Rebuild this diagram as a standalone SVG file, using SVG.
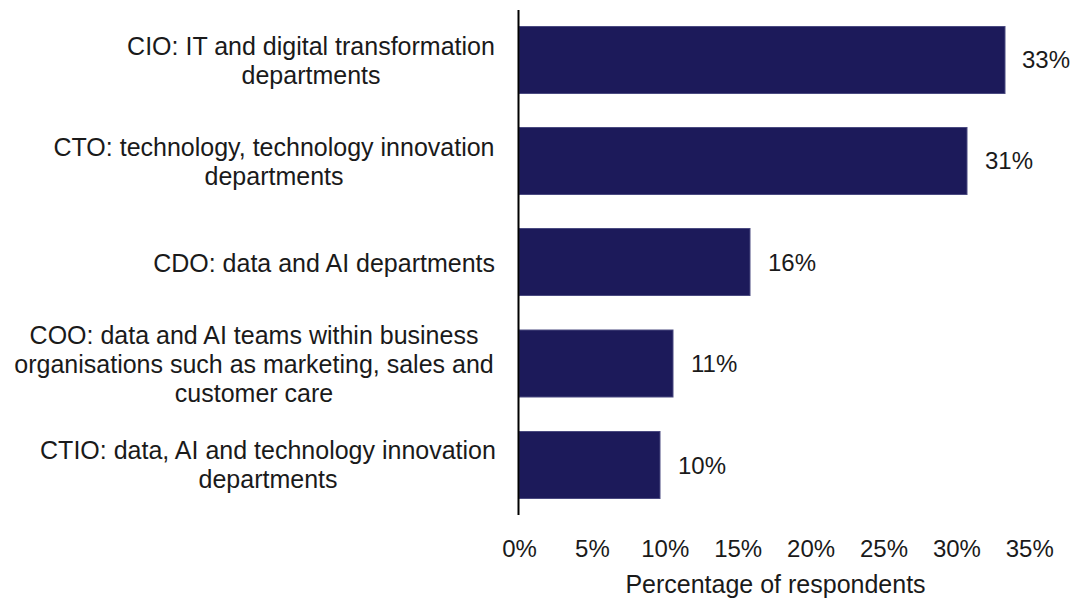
<svg xmlns="http://www.w3.org/2000/svg" width="1077" height="603" viewBox="0 0 1077 603">
<style>
text{font-family:"Liberation Sans",Arial,sans-serif;fill:#1a1a1a}
.lab{font-size:25px;text-anchor:middle}
.val{font-size:24px}
.tick{font-size:24px;text-anchor:middle}
.bar{fill:#1c1a5a;stroke:#4a4a80;stroke-width:1}
</style>
<rect width="1077" height="603" fill="#ffffff"/>
<g id="bar-cio">
<rect class="bar" x="519" y="26.5" width="486" height="67"/>
<text class="lab" x="311" y="54.5">CIO: IT and digital transformation</text>
<text class="lab" x="311" y="83.5">departments</text>
<text class="val" x="1022" y="68">33%</text>
</g>
<g id="bar-cto">
<rect class="bar" x="519" y="127.5" width="448" height="67"/>
<text class="lab" x="274" y="155.5">CTO: technology, technology innovation</text>
<text class="lab" x="274" y="184.5">departments</text>
<text class="val" x="985" y="169">31%</text>
</g>
<g id="bar-cdo">
<rect class="bar" x="519" y="228.5" width="231" height="67"/>
<text class="lab" x="495" y="272" style="text-anchor:end">CDO: data and AI departments</text>
<text class="val" x="768" y="271">16%</text>
</g>
<g id="bar-coo">
<rect class="bar" x="519" y="330" width="154" height="67"/>
<text class="lab" x="254" y="344">COO: data and AI teams within business</text>
<text class="lab" x="254" y="373">organisations such as marketing, sales and</text>
<text class="lab" x="254" y="402">customer care</text>
<text class="val" x="691" y="372">11%</text>
</g>
<g id="bar-ctio">
<rect class="bar" x="519" y="431.5" width="141" height="67"/>
<text class="lab" x="268" y="459">CTIO: data, AI and technology innovation</text>
<text class="lab" x="268" y="488">departments</text>
<text class="val" x="678" y="474">10%</text>
</g>
<g id="axes">
<line x1="518.5" y1="10" x2="518.5" y2="515" stroke="#000" stroke-width="2"/>
<text class="tick" x="519.5" y="557">0%</text>
<text class="tick" x="592.4" y="557">5%</text>
<text class="tick" x="665.3" y="557">10%</text>
<text class="tick" x="738.2" y="557">15%</text>
<text class="tick" x="811.1" y="557">20%</text>
<text class="tick" x="884" y="557">25%</text>
<text class="tick" x="956.9" y="557">30%</text>
<text class="tick" x="1029.8" y="557">35%</text>
<text x="775.5" y="593" style="font-size:25px;text-anchor:middle">Percentage of respondents</text>
</g>
</svg>
